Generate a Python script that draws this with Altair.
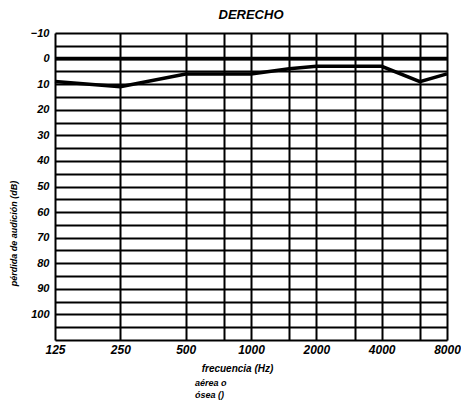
import altair as alt
import pandas as pd

freqs = [125, 250, 500, 750, 1000, 1500, 2000, 3000, 4000, 6000, 8000]
loss_db = [9, 11, 6, 6, 6, 4, 3, 3, 3, 9, 6]
x_label_freqs = [125, 250, 500, 1000, 2000, 4000, 8000]
y_grid_values = list(range(-10, 115, 5))
legend_lines = ["aérea  o", "ósea  ()"]

df = pd.DataFrame({"freq": freqs, "db": loss_db})
zero_df = pd.DataFrame({"db": [0]})

FONT = "Liberation Sans"

xlab_expr = "indexof([" + ",".join(str(v) for v in x_label_freqs) + "], datum.value) >= 0 ? datum.label : ''"
ylab_expr = "(datum.value % 10 == 0 && datum.value <= 100) ? datum.label : ''"

xscale = alt.Scale(type="log", base=2, domain=[125, 8000], nice=False)
yscale = alt.Scale(domain=[-10, 110], reverse=True, nice=False, zero=False)

x_axis = alt.Axis(values=freqs, labelExpr=xlab_expr, format="d", grid=True, gridColor="black",
                  gridWidth=2, gridOpacity=1, ticks=False, domain=False,
                  labelFont=FONT, labelFontStyle="italic", labelFontWeight="bold",
                  labelFontSize=12, labelColor="black", labelPadding=4,
                  title="frecuencia (Hz)", titleFont=FONT, titleFontStyle="italic",
                  titleFontWeight="bold", titleFontSize=10, titleColor="black",
                  titlePadding=8, titleX=182, labelFlush=False)
y_axis = alt.Axis(values=y_grid_values, labelExpr=ylab_expr, format="d", grid=True,
                  gridColor="black", gridWidth=1.8, gridOpacity=1, ticks=False, domain=False,
                  labelFont=FONT, labelFontStyle="italic", labelFontWeight="bold",
                  labelFontSize=11, labelColor="black", labelPadding=6,
                  title="pérdida de audición (dB)", titleFont=FONT,
                  titleFontStyle="italic", titleFontWeight="bold", titleFontSize=9,
                  titleColor="black", titleX=-37, titleY=200)

line = alt.Chart(df).mark_line(color="black", strokeWidth=3.5).encode(
    x=alt.X("freq:Q", scale=xscale, axis=x_axis),
    y=alt.Y("db:Q", scale=yscale, axis=y_axis),
)

zero_rule = alt.Chart(zero_df).mark_rule(color="black", strokeWidth=3.5).encode(
    y=alt.Y("db:Q", scale=yscale, axis=y_axis)
)

legend_style = dict(font=FONT, fontStyle="italic", fontWeight="bold", fontSize=9,
                    color="black", align="left")
legend1 = alt.Chart(zero_df).mark_text(text=legend_lines[0], **legend_style).encode(
    x=alt.value(140), y=alt.value(350))
legend2 = alt.Chart(zero_df).mark_text(text=legend_lines[1], **legend_style).encode(
    x=alt.value(140), y=alt.value(362))

chart = alt.layer(line, zero_rule, legend1, legend2).properties(
    width=392,
    height=307,
    title=alt.TitleParams("DERECHO", font=FONT, fontStyle="italic", fontWeight="bold",
                          fontSize=13, color="black", offset=5),
    autosize=alt.AutoSizeParams(type="none"),
    padding={"left": 47, "top": 25, "right": 14, "bottom": 60},
).configure_view(stroke="black", strokeWidth=2.5).configure(background="white")

chart.save("out.html", embed_options={"renderer": "svg", "actions": False})
